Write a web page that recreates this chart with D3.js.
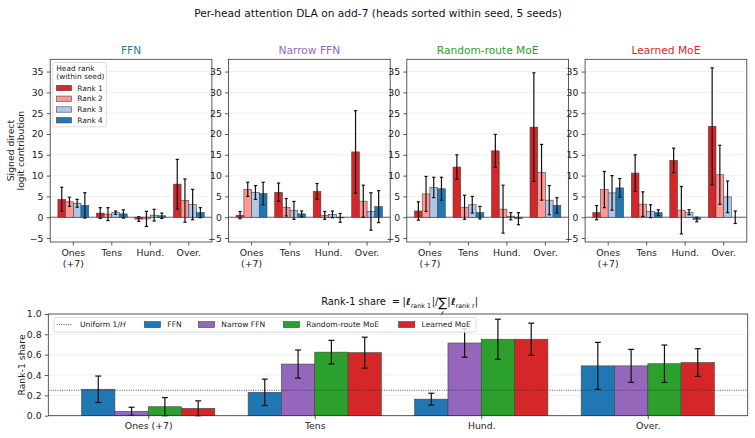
<!DOCTYPE html>
<html><head><meta charset="utf-8">
<script src="https://cdn.jsdelivr.net/npm/d3@7"></script>
<style>body{margin:0;background:#fff} svg{display:block} text{font-family:"DejaVu Sans",sans-serif}</style>
</head><body><svg id="c" width="755" height="438"></svg>
<script>
// ---------------- data ----------------
const categories = ["Ones (+7)", "Tens", "Hund.", "Over."];
const topCategoryLines = [["Ones", "(+7)"], ["Tens"], ["Hund."], ["Over."]];
const models = ["FFN", "Narrow FFN", "Random-route MoE", "Learned MoE"];
const ranks = ["Rank 1", "Rank 2", "Rank 3", "Rank 4"];
// signed direct logit contribution: [category][rank]
const ffnMean = [[4.3, 3.7, 3.35, 2.85], [1.0, 0.75, 1.1, 0.8], [-0.45, -0.4, 0.5, 0.35], [7.95, 4.0, 3.05, 1.1]];
const ffnErr = [[2.9, 1.1, 0.95, 3.05], [1.3, 1.55, 0.4, 1.0], [0.55, 1.8, 1.4, 0.65], [5.95, 5.2, 3.65, 1.2]];
const narrowMean = [[0.5, 6.7, 5.95, 5.7], [6.0, 2.4, 1.65, 0.8], [6.2, 0.45, 0.7, -0.15], [15.7, 3.85, 1.4, 2.55]];
const narrowErr = [[0.85, 1.7, 1.65, 2.7], [2.2, 2.1, 2.15, 0.7], [1.9, 0.95, 0.8, 1.05], [9.9, 3.85, 4.5, 3.85]];
const randomMean = [[1.5, 5.6, 7.15, 6.85], [12.05, 2.4, 3.0, 1.1], [15.95, 1.95, 0.25, -0.35], [21.65, 10.8, 4.1, 2.85]];
const randomErr = [[2.2, 4.2, 2.45, 2.75], [2.95, 2.9, 2.0, 1.5], [3.95, 5.75, 0.85, 1.45], [13.05, 6.7, 3.5, 1.85]];
const learnedMean = [[1.1, 6.65, 5.85, 7.05], [10.6, 3.15, 1.45, 1.1], [13.65, 1.7, 1.2, -0.55], [21.85, 10.2, 4.9, 0.0]];
const learnedErr = [[1.7, 4.35, 4.15, 2.25], [4.4, 2.95, 1.55, 0.7], [2.95, 5.7, 0.6, 0.55], [14.05, 7.1, 3.8, 1.5]];
const topTicks = [-5, 0, 5, 10, 15, 20, 25, 30, 35];
// rank-1 share: [category]
const ffnShare = [0.26, 0.23, 0.163, 0.49];
const ffnShareErr = [0.13, 0.13, 0.058, 0.231];
const narrowShare = [0.043, 0.508, 0.715, 0.49];
const narrowShareErr = [0.04, 0.138, 0.14, 0.162];
const randomShare = [0.088, 0.625, 0.752, 0.511];
const randomShareErr = [0.09, 0.116, 0.197, 0.184];
const learnedShare = [0.072, 0.62, 0.752, 0.523];
const learnedShareErr = [0.074, 0.152, 0.158, 0.136];
const shareTicks = [0, 0.2, 0.4, 0.6, 0.8, 1.0];
const uniformShare = 0.25;

const rankColors = ["#d62728", "#ff9896", "#aec7e8", "#1f77b4"];
const modelColors = ["#1f77b4", "#9467bd", "#2ca02c", "#d62728"];

const topMeans = [ffnMean, narrowMean, randomMean, learnedMean];
const topErrs = [ffnErr, narrowErr, randomErr, learnedErr];
const shareMeans = [ffnShare, narrowShare, randomShare, learnedShare];
const shareErrs = [ffnShareErr, narrowShareErr, randomShareErr, learnedShareErr];

// ---------------- drawing ----------------
const svg = d3.select("#c");
const FS = 9.3, SPINE = "#333", TXT = "#222", LFS = 7.4;
const offsets = [-0.3, -0.1, 0.1, 0.3], BW = 0.2;

svg.append("text").attr("x", 378).attr("y", 17).attr("text-anchor", "middle")
  .attr("font-size", 10.65).attr("fill", "#111")
  .text("Per-head attention DLA on add-7 (heads sorted within seed, 5 seeds)");

const topY0 = 242, topY1 = 59.3;
const yTop = d3.scaleLinear().domain([-5.95, 37.95]).range([topY0, topY1]);

models.forEach((m, p) => {
  const left = 50.2 + p * 178.3, right = left + 161.7;
  const x = d3.scaleLinear().domain([-0.6, 3.6]).range([left, right]);
  const g = svg.append("g");
  g.selectAll(".grid").data(topTicks).enter().append("line")
    .attr("x1", left).attr("x2", right).attr("y1", d => yTop(d)).attr("y2", d => yTop(d))
    .attr("stroke", "#ebebeb").attr("stroke-width", 0.8);
  g.append("line").attr("x1", left).attr("x2", right).attr("y1", yTop(0)).attr("y2", yTop(0))
    .attr("stroke", "#555").attr("stroke-width", 0.9);
  const means = topMeans[p], errs = topErrs[p];
  categories.forEach((c, ci) => {
    ranks.forEach((r, ri) => {
      const v = means[ci][ri];
      const xc = ci + offsets[ri];
      g.append("rect")
        .attr("x", x(xc - BW / 2)).attr("width", x(xc + BW / 2) - x(xc - BW / 2))
        .attr("y", yTop(Math.max(0, v))).attr("height", Math.abs(yTop(v) - yTop(0)))
        .attr("fill", rankColors[ri]).attr("stroke", "#444").attr("stroke-width", 0.6);
    });
  });
  categories.forEach((c, ci) => {
    ranks.forEach((r, ri) => {
      const v = means[ci][ri], e = errs[ci][ri];
      const xp = x(ci + offsets[ri]);
      const eg = g.append("g").attr("stroke", "#111").attr("stroke-width", 1.2);
      eg.append("line").attr("x1", xp).attr("x2", xp).attr("y1", yTop(v - e)).attr("y2", yTop(v + e));
      [v - e, v + e].forEach(t => eg.append("line").attr("x1", xp - 1.6).attr("x2", xp + 1.6)
        .attr("y1", yTop(t)).attr("y2", yTop(t)));
    });
  });
  g.append("rect").attr("x", left).attr("y", topY1).attr("width", right - left).attr("height", topY0 - topY1)
    .attr("fill", "none").attr("stroke", SPINE).attr("stroke-width", 0.8);
  const ya = g.append("g").attr("transform", `translate(${left},0)`)
    .call(d3.axisLeft(yTop).tickValues(topTicks).tickSize(3.5).tickPadding(3.2));
  ya.select(".domain").remove();
  ya.selectAll("line").attr("stroke", SPINE).attr("stroke-width", 0.8);
  ya.selectAll("text").attr("font-size", FS).attr("fill", TXT).attr("font-family", "DejaVu Sans");
  categories.forEach((c, ci) => {
    g.append("line").attr("x1", x(ci)).attr("x2", x(ci)).attr("y1", topY0).attr("y2", topY0 + 3.5)
      .attr("stroke", SPINE).attr("stroke-width", 0.8);
    topCategoryLines[ci].forEach((ln, li) => {
      g.append("text").attr("x", x(ci)).attr("y", 256 + li * 10.6).attr("text-anchor", "middle")
        .attr("font-size", FS).attr("fill", TXT).text(ln);
    });
  });
  g.append("text").attr("x", (left + right) / 2).attr("y", 53.8).attr("text-anchor", "middle")
    .attr("font-size", 10.65).attr("fill", modelColors[p]).text(m);
});

[["Signed direct", 13.8], ["logit contribution", 24.4]].forEach(([t, xx]) => {
  svg.append("text").attr("transform", `translate(${xx},150.6) rotate(-90)`)
    .attr("text-anchor", "middle").attr("font-size", FS).attr("fill", TXT).text(t);
});

// top legend
{
  const lg = svg.append("g");
  lg.append("rect").attr("x", 52.8).attr("y", 62.5).attr("width", 53.5).attr("height", 64.3)
    .attr("rx", 2).attr("fill", "#fff").attr("fill-opacity", 0.85).attr("stroke", "#d0d0d0").attr("stroke-width", 0.8);
  lg.append("text").attr("x", 56.3).attr("y", 71.2).attr("font-size", LFS).attr("fill", TXT).text("Head rank");
  lg.append("text").attr("x", 56.3).attr("y", 79.4).attr("font-size", LFS).attr("fill", TXT).text("(within seed)");
  ranks.forEach((r, ri) => {
    const cy = 88 + ri * 10.75;
    lg.append("rect").attr("x", 56.5).attr("y", cy - 2.7).attr("width", 15).attr("height", 5.4)
      .attr("fill", rankColors[ri]).attr("stroke", "#444").attr("stroke-width", 0.6);
    lg.append("text").attr("x", 77.3).attr("y", cy + 2.6).attr("font-size", LFS).attr("fill", TXT).text(r);
  });
}

// ---------------- bottom panel ----------------
const bL = 48.3, bR = 747.7, bT = 314, bB = 415.7;
const xb = d3.scaleLinear().domain([-0.6, 3.6]).range([bL, bR]);
const yb = d3.scaleLinear().domain([0, 1]).range([bB, bT]);
const bg = svg.append("g");
bg.selectAll(".grid").data(shareTicks).enter().append("line")
  .attr("x1", bL).attr("x2", bR).attr("y1", d => yb(d)).attr("y2", d => yb(d))
  .attr("stroke", "#ebebeb").attr("stroke-width", 0.8);
models.forEach((m, mi) => {
  categories.forEach((c, ci) => {
    const v = shareMeans[mi][ci];
    const xc = ci + offsets[mi];
    bg.append("rect").attr("x", xb(xc - BW / 2)).attr("width", xb(xc + BW / 2) - xb(xc - BW / 2))
      .attr("y", yb(v)).attr("height", yb(0) - yb(v))
      .attr("fill", modelColors[mi]).attr("stroke", "#444").attr("stroke-width", 0.6);
  });
});
bg.append("line").attr("x1", bL).attr("x2", bR).attr("y1", yb(uniformShare)).attr("y2", yb(uniformShare))
  .attr("stroke", "#333").attr("stroke-width", 0.8).attr("stroke-dasharray", "1,1.3");
models.forEach((m, mi) => {
  categories.forEach((c, ci) => {
    const v = shareMeans[mi][ci], e = shareErrs[mi][ci];
    const xp = xb(ci + offsets[mi]);
    const lo = Math.max(0, v - e), hi = v + e;
    const eg = bg.append("g").attr("stroke", "#111").attr("stroke-width", 1.2);
    eg.append("line").attr("x1", xp).attr("x2", xp).attr("y1", yb(lo)).attr("y2", yb(hi));
    [lo, hi].forEach(t => eg.append("line").attr("x1", xp - 3).attr("x2", xp + 3).attr("y1", yb(t)).attr("y2", yb(t)));
  });
});
bg.append("rect").attr("x", bL).attr("y", bT).attr("width", bR - bL).attr("height", bB - bT)
  .attr("fill", "none").attr("stroke", SPINE).attr("stroke-width", 0.8);
{
  const ya = bg.append("g").attr("transform", `translate(${bL},0)`)
    .call(d3.axisLeft(yb).tickValues(shareTicks).tickFormat(d3.format(".1f")).tickSize(3.5).tickPadding(3.2));
  ya.select(".domain").remove();
  ya.selectAll("line").attr("stroke", SPINE).attr("stroke-width", 0.8);
  ya.selectAll("text").attr("font-size", FS).attr("fill", TXT).attr("font-family", "DejaVu Sans");
  const xa = bg.append("g").attr("transform", `translate(0,${bB})`)
    .call(d3.axisBottom(xb).tickValues([0, 1, 2, 3]).tickFormat(i => categories[i]).tickSize(3.5).tickPadding(3.2));
  xa.select(".domain").remove();
  xa.selectAll("line").attr("stroke", SPINE).attr("stroke-width", 0.8);
  xa.selectAll("text").attr("font-size", FS).attr("fill", TXT).attr("font-family", "DejaVu Sans");
}
svg.append("text").attr("transform", `translate(24.5,365) rotate(-90)`).attr("text-anchor", "middle")
  .attr("font-size", FS).attr("fill", TXT).text("Rank-1 share");

// bottom legend
{
  const lg = svg.append("g");
  lg.append("rect").attr("x", 54).attr("y", 317.6).attr("width", 422).attr("height", 14.6)
    .attr("rx", 2).attr("fill", "#fff").attr("fill-opacity", 0.85).attr("stroke", "#d0d0d0").attr("stroke-width", 0.8);
  const cy = 324.6;
  lg.append("line").attr("x1", 56.7).attr("x2", 71.7).attr("y1", cy).attr("y2", cy)
    .attr("stroke", "#333").attr("stroke-width", 0.8).attr("stroke-dasharray", "1,1.3");
  const ut = lg.append("text").attr("x", 80).attr("y", cy + 2.7).attr("font-size", LFS + 0.2).attr("fill", TXT);
  ut.append("tspan").text("Uniform 1/");
  ut.append("tspan").attr("font-style", "italic").text("H");
  const px = [144.3, 198.3, 283.3, 398.6];
  models.forEach((m, mi) => {
    lg.append("rect").attr("x", px[mi]).attr("y", cy - 3).attr("width", 16.2).attr("height", 6)
      .attr("fill", modelColors[mi]).attr("stroke", "#444").attr("stroke-width", 0.6);
    lg.append("text").attr("x", px[mi] + 23).attr("y", cy + 2.7).attr("font-size", LFS + 0.2).attr("fill", TXT).text(m);
  });
}

// bottom title with math
{
  const tg = svg.append("g");
  let cx = 0;
  const base = 305.3;
  function piece(t, opts = {}) {
    const el = tg.append("text").attr("x", cx).attr("y", base + (opts.dy || 0))
      .attr("font-size", opts.size || 9.8).attr("fill", "#111").text(t);
    if (opts.italic) el.attr("font-style", "italic");
    if (opts.bold) el.attr("font-weight", "bold");
    const w = el.node().getComputedTextLength();
    const start = cx;
    cx += w + (opts.pad || 0);
    return {start, w};
  }
  piece("Rank-1 share", {pad: 6});
  piece("=", {pad: 2.5});
  piece("|", {pad: 0.3});
  piece("ℓ", {italic: true, bold: true});
  piece("rank 1", {size: 6.4, dy: 2.4, pad: 0.5});
  piece("|/");
  const s = piece("∑", {size: 13, dy: 1.5, pad: 0.3});
  tg.append("text").attr("x", s.start + s.w / 2).attr("y", base + 9.3).attr("text-anchor", "middle")
    .attr("font-size", 6.2).attr("font-style", "italic").attr("fill", "#111").text("r");
  piece("|", {pad: 0.3});
  piece("ℓ", {italic: true, bold: true});
  piece("rank r", {size: 6.4, dy: 2.4, pad: 0.3});
  piece("|");
  tg.attr("transform", `translate(${399.7 - cx / 2},0)`);
}
</script></body></html>
